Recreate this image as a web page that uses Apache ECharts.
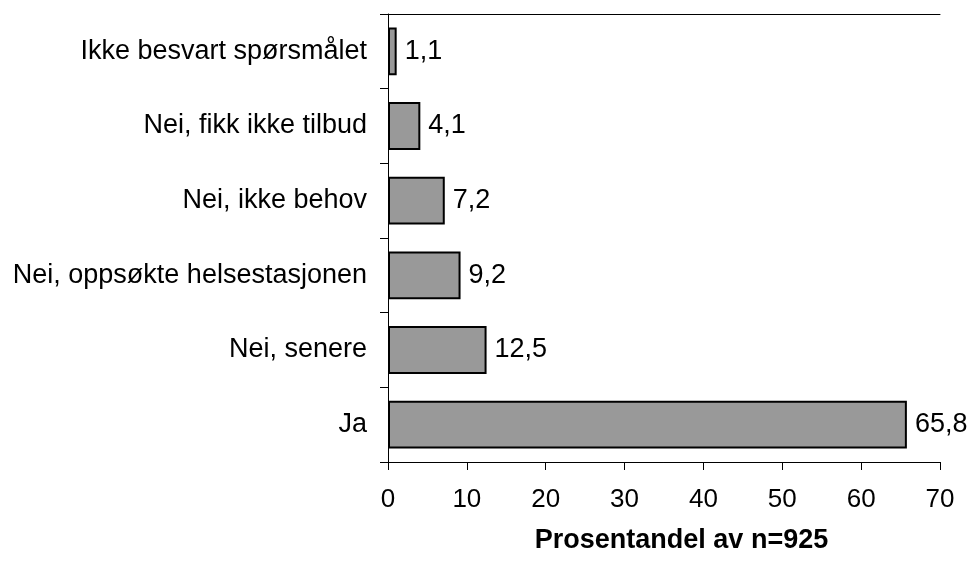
<!DOCTYPE html>
<html>
<head>
<meta charset="utf-8">
<script src="https://cdn.jsdelivr.net/npm/echarts@6/dist/echarts.min.js"></script>
<style>
  html, body { margin: 0; padding: 0; background: #fff; }
  #chart { width: 970px; height: 561px; }
</style>
</head>
<body>
<div id="chart"></div>
<script>
// kategorier, ovenfra og ned
var categories = ['Ikke besvart spørsmålet', 'Nei, fikk ikke tilbud', 'Nei, ikke behov',
  'Nei, oppsøkte helsestasjonen', 'Nei, senere', 'Ja']
var values = [1.1, 4.1, 7.2, 9.2, 12.5, 65.8]
var xTicks = [0, 10, 20, 30, 40, 50, 60, 70]
var xName = 'Prosentandel av n=925'

var font = 'Liberation Sans, Arial, sans-serif'
var chart = echarts.init(document.getElementById('chart'))

chart.setOption({
  animation: false,
  grid: { left: 388, right: 30, top: 14, bottom: 99 },
  xAxis: [
    {
      type: 'value',
      min: xTicks[0],
      max: xTicks[xTicks.length - 1],
      interval: 10,
      position: 'bottom',
      name: xName,
      nameLocation: 'middle',
      nameGap: 65,
      nameTextStyle: {
        color: '#000', fontFamily: font, fontSize: 27, fontWeight: 'bold',
        padding: [0, 0, 0, 35] // navnet står litt til høyre for midten
      },
      axisLine: { show: true, lineStyle: { color: '#000', width: 1 } },
      axisTick: { show: true, length: 8, lineStyle: { color: '#000' } },
      axisLabel: { color: '#000', fontFamily: font, fontSize: 26, margin: 25 },
      splitLine: { show: false }
    },
    {
      // bare toppstreken
      type: 'value',
      min: 0,
      max: 70,
      position: 'top',
      axisLine: { show: true, lineStyle: { color: '#000', width: 1 } },
      axisTick: { show: false },
      axisLabel: { show: false },
      splitLine: { show: false }
    }
  ],
  yAxis: {
    type: 'category',
    data: categories,
    inverse: true,
    axisLine: { show: true, lineStyle: { color: '#000', width: 1 } },
    axisTick: { show: true, length: 8, lineStyle: { color: '#000' } },
    axisLabel: { color: '#000', fontFamily: font, fontSize: 27, margin: 21 }
  },
  series: [
    {
      type: 'bar',
      xAxisIndex: 0,
      data: values,
      barCategoryGap: '36%',
      itemStyle: { color: '#999999', borderColor: '#000', borderWidth: 2 },
      label: {
        show: true,
        position: 'right',
        distance: 8,
        color: '#000',
        fontFamily: font,
        fontSize: 27,
        formatter: function (p) { return String(p.value).replace('.', ',') }
      }
    }
  ]
})
</script>
</body>
</html>
